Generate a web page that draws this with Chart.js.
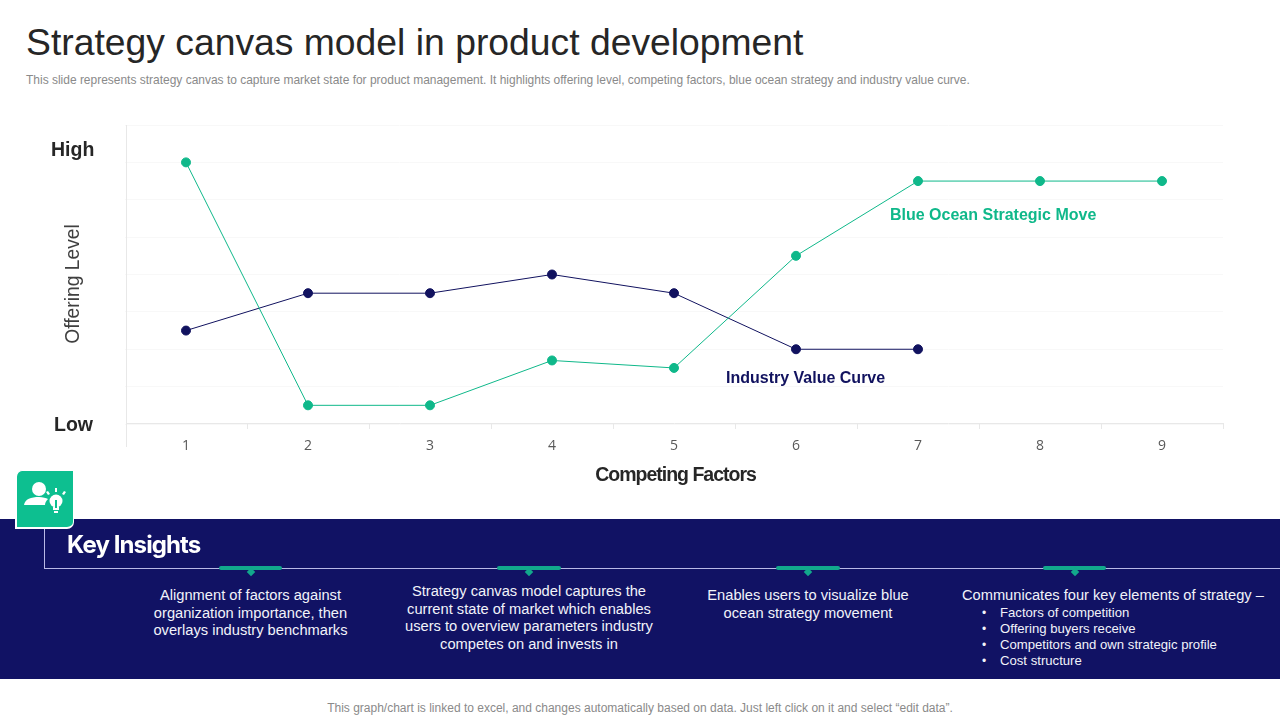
<!DOCTYPE html>
<html><head><meta charset="utf-8">
<script src="https://cdn.jsdelivr.net/npm/chart.js@4"></script>
<style>
html,body{margin:0;padding:0;background:#fff;width:1280px;height:720px;overflow:hidden;font-family:"Liberation Sans",Arial,sans-serif}
.t{position:absolute;white-space:nowrap}
.c{position:absolute;text-align:center;color:#f2f3fa;font-size:14.68px;line-height:17.7px;white-space:nowrap;transform:translateX(-50%)}
.mark{position:absolute;top:566px;height:4px;background:#12a88c;border-radius:2px}
.mark:after{content:"";position:absolute;left:50%;top:3px;width:6px;height:6px;margin-left:-3px;background:#12a88c;transform:rotate(45deg)}
ul{margin:0;padding:0;list-style:none}
</style></head><body>
<div class="t" style="left:26px;top:19px;font:37.3px/46px 'Liberation Sans';color:#262626">Strategy canvas model in product development</div>
<div class="t" style="left:26px;top:72px;font:11.97px/16px 'Liberation Sans';color:#8a8a8a">This slide represents strategy canvas to capture market state for product management. It highlights offering level, competing factors, blue ocean strategy and industry value curve.</div>
<canvas id="c" width="1280" height="490" style="position:absolute;left:0;top:0;width:1280px;height:490px"></canvas>
<div class="t" style="left:51px;top:137px;font:bold 19.5px/24px 'Liberation Sans';color:#262626">High</div>
<div class="t" style="left:54px;top:412px;font:bold 19.5px/24px 'Liberation Sans';color:#262626">Low</div>
<div class="t" style="left:73px;top:284px;font:19.3px/24px 'Liberation Sans';color:#404040;transform:translate(-50%,-50%) rotate(-90deg)">Offering Level</div>
<div class="t" style="left:675.5px;top:462px;font:bold 19.5px/24px 'Liberation Sans';letter-spacing:-1px;color:#262626;transform:translateX(-50%)">Competing Factors</div>
<div class="t" style="left:890px;top:205px;font:bold 16px/20px 'Liberation Sans';color:#0fb88a">Blue Ocean Strategic Move</div>
<div class="t" style="left:726px;top:368px;font:bold 16px/20px 'Liberation Sans';color:#11125f">Industry Value Curve</div>
<div style="position:absolute;left:0;top:519px;width:1280px;height:160px;background:#111264"></div>
<div style="position:absolute;left:44px;top:525px;width:1236px;height:43px;border-left:1px solid #b9b9e6;border-bottom:1px solid #b9b9e6"></div>
<div style="position:absolute;left:15px;top:470px;width:56px;height:56px;background:#0dbf90;border:1px solid #fff;border-left-width:2px;border-bottom-width:2px;border-radius:7px 0 7px 0"></div>
<svg style="position:absolute;left:22px;top:478px" width="46" height="42" viewBox="0 0 46 42" fill="#fff">
<circle cx="17" cy="11" r="7"/><path d="M2 27c1-6 7-8 15-8 4 0 7 1 9 2-2 2-3 4-3 6z"/>
<circle cx="34" cy="23" r="6.5"/><rect x="31" y="29" width="6" height="3"/><rect x="32" y="33" width="4" height="2"/>
<rect x="33" y="22" width="2" height="8" fill="#0dbf90"/>
<rect x="33" y="10" width="2" height="4"/><path d="M24 14l2-1 2 3-2 1zM44 14l-2-1-2 3 2 1z"/></svg>
<div class="t" style="left:67px;top:530px;font:bold 24px/30px 'Inter','Liberation Sans';letter-spacing:-.9px;color:#fff">Key Insights</div>
<div class="mark" style="left:219px;width:63px"></div>
<div class="mark" style="left:497px;width:64px"></div>
<div class="mark" style="left:776px;width:64px"></div>
<div class="mark" style="left:1043px;width:63px"></div>
<div class="c" style="left:250.5px;top:587px">Alignment of factors against<br>organization importance, then<br>overlays industry benchmarks</div>
<div class="c" style="left:529px;top:583px">Strategy canvas model captures the<br>current state of market which enables<br>users to overview parameters industry<br>competes on and invests in</div>
<div class="c" style="left:808px;top:587px">Enables users to visualize blue<br>ocean strategy movement</div>
<div class="t" style="left:962px;top:587px;font:14.65px/17.7px 'Liberation Sans';color:#f2f3fa">Communicates four key elements of strategy –</div>
<ul class="t" style="left:1000px;top:605px;font:13.15px/16px 'Liberation Sans';color:#f2f3fa">
<li>Factors of competition</li><li>Offering  buyers receive</li><li>Competitors and own strategic profile</li><li>Cost structure</li></ul>
<div class="t" style="left:982px;top:605px;font:12px/16px 'Liberation Sans';color:#f2f3fa">•<br>•<br>•<br>•</div>
<div class="t" style="left:0;width:1280px;text-align:center;top:700px;font:12px/16px 'Liberation Sans';color:#8a8a8a">This graph/chart is linked to excel,  and changes automatically based on data. Just left click on it and select “edit data”.</div>
<script>
const categories = ['1','2','3','4','5','6','7','8','9'];
const blueOcean = [7, 0.5, 0.5, 1.7, 1.5, 4.5, 6.5, 6.5, 6.5];
const industry = [2.5, 3.5, 3.5, 4, 3.5, 2, 2, null, null];
const yMin = 0, yMax = 8;
const canvas = document.getElementById('c');
new Chart(canvas, {
  type: 'line',
  data: { labels: categories, datasets: [
    { label: 'Blue Ocean Strategic Move', data: blueOcean, borderColor: '#0fb88a', backgroundColor: '#0fb88a', borderWidth: 1, pointRadius: 4.5, pointHoverRadius: 4.5, tension: 0 },
    { label: 'Industry Value Curve', data: industry, borderColor: '#11125f', backgroundColor: '#11125f', borderWidth: 1, pointRadius: 4.5, pointHoverRadius: 4.5, tension: 0 }
  ]},
  options: {
    responsive: false, animation: false, devicePixelRatio: 1,
    layout: { padding: { left: 59, right: 57, top: 125, bottom: 0 } },
    plugins: { legend: { display: false }, tooltip: { enabled: false } },
    scales: {
      x: { type: 'category', offset: true,
        grid: { display: false, drawTicks: true },
        border: { display: false },
        ticks: { color: '#595959', font: { family: 'Open Sans', size: 14 }, padding: 6, maxRotation: 0 },
        afterFit(s){ s.height = 66; }
      },
      y: { min: yMin, max: yMax,
        grid: { color: '#f8f8f8', lineWidth: 1, drawTicks: false },
        border: { display: false },
        ticks: { display: false, stepSize: 1 },
        afterFit(s){ s.width = 66; }
      }
    }
  },
  plugins: [{ id: 'axisFrame', beforeDatasetsDraw(ch){
    const g = ch.ctx, a = ch.chartArea, n = categories.length, w = (a.right-a.left)/n;
    g.save(); g.strokeStyle = '#e8e8e8'; g.lineWidth = 1; g.beginPath();
    g.moveTo(a.left+1.5, a.top); g.lineTo(a.left+1.5, a.bottom+23);
    g.moveTo(a.left+1, a.bottom-.5); g.lineTo(a.right, a.bottom-.5);
    for(let i=1;i<=n;i++){ const x=Math.round(a.left+i*w)+.5; g.moveTo(x,a.bottom-1); g.lineTo(x,a.bottom+5); }
    g.stroke(); g.restore();
  }}]
});
</script>
</body></html>
